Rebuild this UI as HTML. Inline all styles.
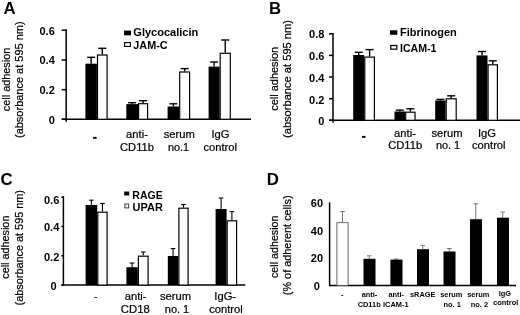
<!DOCTYPE html>
<html><head><meta charset="utf-8"><title>Figure</title>
<style>
html,body{margin:0;padding:0;background:#fff;}
body{width:520px;height:315px;overflow:hidden;font-family:"Liberation Sans",sans-serif;}
svg{display:block;}
</style></head><body>
<svg width="520" height="315" viewBox="0 0 520 315">
<defs><filter id="soft" x="0" y="0" width="520" height="315" filterUnits="userSpaceOnUse"><feGaussianBlur stdDeviation="0.35"/></filter></defs>
<rect x="0" y="0" width="520" height="315" fill="#fff"/>
<g filter="url(#soft)">
<text x="3.6" y="13.8" font-size="16.8" font-family="Liberation Sans, sans-serif" font-weight="bold" fill="#000">A</text>
<line x1="66.2" y1="29.45" x2="66.2" y2="121.8" stroke="#000" stroke-width="1.5"/>
<line x1="61.7" y1="119.3" x2="251" y2="119.3" stroke="#000" stroke-width="1.5"/>
<line x1="61.7" y1="30.2" x2="66.2" y2="30.2" stroke="#000" stroke-width="1.5"/>
<text x="54.8" y="34.8" font-size="11" font-family="Liberation Sans, sans-serif" text-anchor="end" font-weight="bold" fill="#000">0.6</text>
<line x1="61.7" y1="60" x2="66.2" y2="60" stroke="#000" stroke-width="1.5"/>
<text x="54.8" y="64.2" font-size="11" font-family="Liberation Sans, sans-serif" text-anchor="end" font-weight="bold" fill="#000">0.4</text>
<line x1="61.7" y1="89.7" x2="66.2" y2="89.7" stroke="#000" stroke-width="1.5"/>
<text x="54.8" y="93.9" font-size="11" font-family="Liberation Sans, sans-serif" text-anchor="end" font-weight="bold" fill="#000">0.2</text>
<line x1="61.7" y1="119.3" x2="66.2" y2="119.3" stroke="#000" stroke-width="1.5"/>
<text x="54.8" y="123.5" font-size="11" font-family="Liberation Sans, sans-serif" text-anchor="end" font-weight="bold" fill="#000">0</text>
<line x1="91.15" y1="57.3" x2="91.15" y2="63.7" stroke="#000" stroke-width="1.4"/>
<line x1="87.15" y1="57.3" x2="95.15" y2="57.3" stroke="#000" stroke-width="1.4"/>
<line x1="102.30000000000001" y1="48.3" x2="102.30000000000001" y2="54.4" stroke="#000" stroke-width="1.4"/>
<line x1="98.30000000000001" y1="48.3" x2="106.30000000000001" y2="48.3" stroke="#000" stroke-width="1.4"/>
<rect x="85.4" y="63.7" width="11.5" height="55.599999999999994" fill="#000"/>
<rect x="97.5" y="55.0" width="9.599999999999998" height="64.30000000000001" fill="#fff" stroke="#000" stroke-width="1.2"/>
<line x1="132.15" y1="102.7" x2="132.15" y2="104.1" stroke="#000" stroke-width="1.4"/>
<line x1="128.15" y1="102.7" x2="136.15" y2="102.7" stroke="#000" stroke-width="1.4"/>
<line x1="143.1" y1="100.7" x2="143.1" y2="103.1" stroke="#000" stroke-width="1.4"/>
<line x1="139.1" y1="100.7" x2="147.1" y2="100.7" stroke="#000" stroke-width="1.4"/>
<rect x="126.3" y="104.1" width="11.700000000000003" height="15.200000000000003" fill="#000"/>
<rect x="138.6" y="103.69999999999999" width="8.99999999999999" height="15.600000000000003" fill="#fff" stroke="#000" stroke-width="1.2"/>
<line x1="173.35" y1="103.8" x2="173.35" y2="106.5" stroke="#000" stroke-width="1.4"/>
<line x1="169.35" y1="103.8" x2="177.35" y2="103.8" stroke="#000" stroke-width="1.4"/>
<line x1="184.64999999999998" y1="68.6" x2="184.64999999999998" y2="71.4" stroke="#000" stroke-width="1.4"/>
<line x1="180.64999999999998" y1="68.6" x2="188.64999999999998" y2="68.6" stroke="#000" stroke-width="1.4"/>
<rect x="167.6" y="106.5" width="11.5" height="12.799999999999997" fill="#000"/>
<rect x="179.7" y="72.0" width="9.899999999999995" height="47.29999999999999" fill="#fff" stroke="#000" stroke-width="1.2"/>
<line x1="214.1" y1="62" x2="214.1" y2="66.6" stroke="#000" stroke-width="1.4"/>
<line x1="210.1" y1="62" x2="218.1" y2="62" stroke="#000" stroke-width="1.4"/>
<line x1="225.25" y1="40" x2="225.25" y2="52.7" stroke="#000" stroke-width="1.4"/>
<line x1="221.25" y1="40" x2="229.25" y2="40" stroke="#000" stroke-width="1.4"/>
<rect x="208.6" y="66.6" width="11.0" height="52.7" fill="#000"/>
<rect x="220.2" y="53.300000000000004" width="10.099999999999984" height="66.0" fill="#fff" stroke="#000" stroke-width="1.2"/>
<rect x="124" y="30.6" width="7" height="4.7" fill="#000"/>
<text x="133.3" y="35.8" font-size="10.8" font-family="Liberation Sans, sans-serif" font-weight="bold" textLength="65" lengthAdjust="spacingAndGlyphs" fill="#000">Glycocalicin</text>
<rect x="124.6" y="42.6" width="5.8" height="3.8" fill="#fff" stroke="#000" stroke-width="1.1"/>
<text x="133.3" y="48.6" font-size="10.8" font-family="Liberation Sans, sans-serif" font-weight="bold" textLength="34.3" lengthAdjust="spacingAndGlyphs" fill="#000">JAM-C</text>
<rect x="93.1" y="136.9" width="3.5" height="1.9" fill="#000"/>
<text x="137" y="137.9" font-size="11.2" font-family="Liberation Sans, sans-serif" text-anchor="middle" stroke="#000" stroke-width="0.22" fill="#000">anti-</text>
<text x="137" y="151.2" font-size="11.2" font-family="Liberation Sans, sans-serif" text-anchor="middle" stroke="#000" stroke-width="0.22" fill="#000">CD11b</text>
<text x="179.2" y="137.9" font-size="11.2" font-family="Liberation Sans, sans-serif" text-anchor="middle" stroke="#000" stroke-width="0.22" fill="#000">serum</text>
<text x="178.6" y="151.2" font-size="10.9" font-family="Liberation Sans, sans-serif" text-anchor="middle" stroke="#000" stroke-width="0.22" fill="#000">no.1</text>
<text x="220.4" y="137.9" font-size="11.2" font-family="Liberation Sans, sans-serif" text-anchor="middle" stroke="#000" stroke-width="0.22" fill="#000">IgG</text>
<text x="220.2" y="151.2" font-size="11.2" font-family="Liberation Sans, sans-serif" text-anchor="middle" stroke="#000" stroke-width="0.22" fill="#000">control</text>
<text x="9.9" y="111.2" font-size="11.6" font-family="Liberation Sans, sans-serif" textLength="63.5" lengthAdjust="spacingAndGlyphs" transform="rotate(-90 9.9 111.2)" stroke="#000" stroke-width="0.22" fill="#000">cell adhesion</text>
<text x="22.8" y="138.0" font-size="11.6" font-family="Liberation Sans, sans-serif" textLength="116.6" lengthAdjust="spacingAndGlyphs" transform="rotate(-90 22.8 138.0)" stroke="#000" stroke-width="0.22" fill="#000">(absorbance at 595 nm)</text>
<text x="269" y="14.2" font-size="16.8" font-family="Liberation Sans, sans-serif" font-weight="bold" fill="#000">B</text>
<line x1="333" y1="33.05" x2="333" y2="122.8" stroke="#000" stroke-width="1.5"/>
<line x1="329" y1="120.3" x2="520" y2="120.3" stroke="#000" stroke-width="1.5"/>
<line x1="329" y1="33.8" x2="333" y2="33.8" stroke="#000" stroke-width="1.5"/>
<text x="324.4" y="38.3" font-size="11" font-family="Liberation Sans, sans-serif" text-anchor="end" font-weight="bold" fill="#000">0.8</text>
<line x1="329" y1="55.4" x2="333" y2="55.4" stroke="#000" stroke-width="1.5"/>
<text x="324.4" y="59.6" font-size="11" font-family="Liberation Sans, sans-serif" text-anchor="end" font-weight="bold" fill="#000">0.6</text>
<line x1="329" y1="77" x2="333" y2="77" stroke="#000" stroke-width="1.5"/>
<text x="324.4" y="81.6" font-size="11" font-family="Liberation Sans, sans-serif" text-anchor="end" font-weight="bold" fill="#000">0.4</text>
<line x1="329" y1="98.7" x2="333" y2="98.7" stroke="#000" stroke-width="1.5"/>
<text x="324.4" y="103.7" font-size="11" font-family="Liberation Sans, sans-serif" text-anchor="end" font-weight="bold" fill="#000">0.2</text>
<line x1="329" y1="120.3" x2="333" y2="120.3" stroke="#000" stroke-width="1.5"/>
<text x="324.4" y="125.3" font-size="11" font-family="Liberation Sans, sans-serif" text-anchor="end" font-weight="bold" fill="#000">0</text>
<line x1="358.7" y1="52.3" x2="358.7" y2="55.0" stroke="#000" stroke-width="1.4"/>
<line x1="354.7" y1="52.3" x2="362.7" y2="52.3" stroke="#000" stroke-width="1.4"/>
<line x1="369.6" y1="49.6" x2="369.6" y2="56.5" stroke="#000" stroke-width="1.4"/>
<line x1="365.6" y1="49.6" x2="373.6" y2="49.6" stroke="#000" stroke-width="1.4"/>
<rect x="353.2" y="55.0" width="11.0" height="65.3" fill="#000"/>
<rect x="364.8" y="57.1" width="9.600000000000012" height="63.199999999999996" fill="#fff" stroke="#000" stroke-width="1.2"/>
<line x1="399.8" y1="110.1" x2="399.8" y2="111.5" stroke="#000" stroke-width="1.4"/>
<line x1="395.8" y1="110.1" x2="403.8" y2="110.1" stroke="#000" stroke-width="1.4"/>
<line x1="410.35" y1="108.8" x2="410.35" y2="111.6" stroke="#000" stroke-width="1.4"/>
<line x1="406.35" y1="108.8" x2="414.35" y2="108.8" stroke="#000" stroke-width="1.4"/>
<rect x="394.5" y="111.5" width="10.600000000000023" height="8.799999999999997" fill="#000"/>
<rect x="405.70000000000005" y="112.19999999999999" width="9.299999999999944" height="8.100000000000003" fill="#fff" stroke="#000" stroke-width="1.2"/>
<line x1="440.4" y1="99.4" x2="440.4" y2="100.5" stroke="#000" stroke-width="1.4"/>
<line x1="436.4" y1="99.4" x2="444.4" y2="99.4" stroke="#000" stroke-width="1.4"/>
<line x1="451.20000000000005" y1="95.8" x2="451.20000000000005" y2="98.2" stroke="#000" stroke-width="1.4"/>
<line x1="447.20000000000005" y1="95.8" x2="455.20000000000005" y2="95.8" stroke="#000" stroke-width="1.4"/>
<rect x="435.2" y="100.5" width="10.400000000000034" height="19.799999999999997" fill="#000"/>
<rect x="446.20000000000005" y="98.8" width="9.99999999999999" height="21.499999999999993" fill="#fff" stroke="#000" stroke-width="1.2"/>
<line x1="482.0" y1="51.5" x2="482.0" y2="55.4" stroke="#000" stroke-width="1.4"/>
<line x1="478.0" y1="51.5" x2="486.0" y2="51.5" stroke="#000" stroke-width="1.4"/>
<line x1="492.75" y1="60.8" x2="492.75" y2="64.2" stroke="#000" stroke-width="1.4"/>
<line x1="488.75" y1="60.8" x2="496.75" y2="60.8" stroke="#000" stroke-width="1.4"/>
<rect x="476.5" y="55.4" width="11.0" height="64.9" fill="#000"/>
<rect x="488.1" y="64.8" width="9.3" height="55.49999999999999" fill="#fff" stroke="#000" stroke-width="1.2"/>
<rect x="390" y="30.3" width="7.3" height="4.5" fill="#000"/>
<text x="400" y="36.2" font-size="10.8" font-family="Liberation Sans, sans-serif" font-weight="bold" textLength="56.8" lengthAdjust="spacingAndGlyphs" fill="#000">Fibrinogen</text>
<rect x="390.8" y="45.5" width="6" height="3.7" fill="#fff" stroke="#000" stroke-width="1.25"/>
<text x="400" y="51.7" font-size="10.8" font-family="Liberation Sans, sans-serif" font-weight="bold" textLength="36.5" lengthAdjust="spacingAndGlyphs" fill="#000">ICAM-1</text>
<rect x="362" y="135.9" width="3.5" height="1.9" fill="#000"/>
<text x="405" y="136.6" font-size="11.2" font-family="Liberation Sans, sans-serif" text-anchor="middle" stroke="#000" stroke-width="0.22" fill="#000">anti-</text>
<text x="405.2" y="149.2" font-size="11.2" font-family="Liberation Sans, sans-serif" text-anchor="middle" stroke="#000" stroke-width="0.22" fill="#000">CD11b</text>
<text x="447" y="136.6" font-size="11.2" font-family="Liberation Sans, sans-serif" text-anchor="middle" stroke="#000" stroke-width="0.22" fill="#000">serum</text>
<text x="448" y="149.2" font-size="10.9" font-family="Liberation Sans, sans-serif" text-anchor="middle" stroke="#000" stroke-width="0.22" fill="#000">no. 1</text>
<text x="487" y="136.6" font-size="11.2" font-family="Liberation Sans, sans-serif" text-anchor="middle" stroke="#000" stroke-width="0.22" fill="#000">IgG</text>
<text x="488.8" y="149.2" font-size="11.2" font-family="Liberation Sans, sans-serif" text-anchor="middle" stroke="#000" stroke-width="0.22" fill="#000">control</text>
<text x="278.0" y="110.8" font-size="11.7" font-family="Liberation Sans, sans-serif" textLength="64" lengthAdjust="spacingAndGlyphs" transform="rotate(-90 278.0 110.8)" stroke="#000" stroke-width="0.22" fill="#000">cell adhesion</text>
<text x="291.3" y="138.0" font-size="11.7" font-family="Liberation Sans, sans-serif" textLength="118" lengthAdjust="spacingAndGlyphs" transform="rotate(-90 291.3 138.0)" stroke="#000" stroke-width="0.22" fill="#000">(absorbance at 595 nm)</text>
<text x="0.5" y="184.8" font-size="16.8" font-family="Liberation Sans, sans-serif" font-weight="bold" fill="#000">C</text>
<line x1="63.4" y1="196.35" x2="63.4" y2="285.8" stroke="#000" stroke-width="1.5"/>
<line x1="61.4" y1="285.1" x2="245.4" y2="285.1" stroke="#000" stroke-width="1.5"/>
<line x1="61.4" y1="197.1" x2="63.4" y2="197.1" stroke="#000" stroke-width="1.5"/>
<text x="59.3" y="203.5" font-size="11" font-family="Liberation Sans, sans-serif" text-anchor="end" font-weight="bold" fill="#000">0.6</text>
<line x1="61.4" y1="226.4" x2="63.4" y2="226.4" stroke="#000" stroke-width="1.5"/>
<text x="59.3" y="231.4" font-size="11" font-family="Liberation Sans, sans-serif" text-anchor="end" font-weight="bold" fill="#000">0.4</text>
<line x1="61.4" y1="255.8" x2="63.4" y2="255.8" stroke="#000" stroke-width="1.5"/>
<text x="59.3" y="260.8" font-size="11" font-family="Liberation Sans, sans-serif" text-anchor="end" font-weight="bold" fill="#000">0.2</text>
<line x1="61.4" y1="285.1" x2="63.4" y2="285.1" stroke="#000" stroke-width="1.5"/>
<text x="56.7" y="289.7" font-size="11" font-family="Liberation Sans, sans-serif" text-anchor="end" font-weight="bold" fill="#000">0</text>
<line x1="91.4" y1="200.2" x2="91.4" y2="205" stroke="#000" stroke-width="1.1"/>
<line x1="89.10000000000001" y1="200.2" x2="93.7" y2="200.2" stroke="#000" stroke-width="1.1"/>
<line x1="102.45" y1="203.5" x2="102.45" y2="211.6" stroke="#000" stroke-width="1.1"/>
<line x1="100.15" y1="203.5" x2="104.75" y2="203.5" stroke="#000" stroke-width="1.1"/>
<rect x="85.6" y="205" width="11.600000000000009" height="80.10000000000002" fill="#000"/>
<rect x="97.8" y="212.2" width="9.3" height="72.90000000000003" fill="#fff" stroke="#000" stroke-width="1.2"/>
<line x1="132.10000000000002" y1="263" x2="132.10000000000002" y2="267.2" stroke="#000" stroke-width="1.1"/>
<line x1="129.8" y1="263" x2="134.40000000000003" y2="263" stroke="#000" stroke-width="1.1"/>
<line x1="143.25" y1="252" x2="143.25" y2="255.6" stroke="#000" stroke-width="1.1"/>
<line x1="140.95" y1="252" x2="145.55" y2="252" stroke="#000" stroke-width="1.1"/>
<rect x="126.4" y="267.2" width="11.400000000000006" height="17.900000000000034" fill="#000"/>
<rect x="138.4" y="256.2" width="9.699999999999978" height="28.900000000000027" fill="#fff" stroke="#000" stroke-width="1.2"/>
<line x1="173.05" y1="248.6" x2="173.05" y2="256" stroke="#000" stroke-width="1.1"/>
<line x1="170.75" y1="248.6" x2="175.35000000000002" y2="248.6" stroke="#000" stroke-width="1.1"/>
<line x1="183.5" y1="204.5" x2="183.5" y2="207.6" stroke="#000" stroke-width="1.1"/>
<line x1="181.2" y1="204.5" x2="185.8" y2="204.5" stroke="#000" stroke-width="1.1"/>
<rect x="167.8" y="256" width="10.5" height="29.100000000000023" fill="#000"/>
<rect x="178.9" y="208.2" width="9.199999999999978" height="76.90000000000003" fill="#fff" stroke="#000" stroke-width="1.2"/>
<line x1="221.1" y1="198" x2="221.1" y2="209" stroke="#000" stroke-width="1.1"/>
<line x1="218.79999999999998" y1="198" x2="223.4" y2="198" stroke="#000" stroke-width="1.1"/>
<line x1="231.89999999999998" y1="211.6" x2="231.89999999999998" y2="220.2" stroke="#000" stroke-width="1.1"/>
<line x1="229.59999999999997" y1="211.6" x2="234.2" y2="211.6" stroke="#000" stroke-width="1.1"/>
<rect x="215.6" y="209" width="11.0" height="76.10000000000002" fill="#000"/>
<rect x="227.2" y="220.79999999999998" width="9.399999999999995" height="64.30000000000004" fill="#fff" stroke="#000" stroke-width="1.2"/>
<rect x="124.2" y="191.5" width="5" height="4" fill="#000"/>
<text x="132.3" y="198.8" font-size="11.2" font-family="Liberation Sans, sans-serif" font-weight="bold" textLength="30.5" lengthAdjust="spacingAndGlyphs" fill="#000">RAGE</text>
<rect x="124.9" y="204.0" width="3.8" height="3.9" fill="#fff" stroke="#333" stroke-width="0.95"/>
<text x="132.6" y="210.5" font-size="11.2" font-family="Liberation Sans, sans-serif" font-weight="bold" textLength="30.2" lengthAdjust="spacingAndGlyphs" fill="#000">UPAR</text>
<text x="95.7" y="300" font-size="11.2" font-family="Liberation Sans, sans-serif" text-anchor="middle" stroke="#222" stroke-width="0.22" fill="#222">-</text>
<text x="135.7" y="300" font-size="11.2" font-family="Liberation Sans, sans-serif" text-anchor="middle" stroke="#000" stroke-width="0.22" fill="#000">anti-</text>
<text x="135.3" y="313.2" font-size="11.3" font-family="Liberation Sans, sans-serif" text-anchor="middle" stroke="#000" stroke-width="0.22" fill="#000">CD18</text>
<text x="175.5" y="300" font-size="11.2" font-family="Liberation Sans, sans-serif" text-anchor="middle" stroke="#000" stroke-width="0.22" fill="#000">serum</text>
<text x="177" y="313.2" font-size="11" font-family="Liberation Sans, sans-serif" text-anchor="middle" stroke="#000" stroke-width="0.22" fill="#000">no. 1</text>
<text x="225.2" y="300" font-size="11.2" font-family="Liberation Sans, sans-serif" text-anchor="middle" stroke="#000" stroke-width="0.22" fill="#000">IgG-</text>
<text x="226" y="313.2" font-size="11.2" font-family="Liberation Sans, sans-serif" text-anchor="middle" stroke="#000" stroke-width="0.22" fill="#000">control</text>
<text x="9.0" y="278.7" font-size="11.6" font-family="Liberation Sans, sans-serif" textLength="63.1" lengthAdjust="spacingAndGlyphs" transform="rotate(-90 9.0 278.7)" stroke="#000" stroke-width="0.22" fill="#000">cell adhesion</text>
<text x="22.7" y="305.4" font-size="11.6" font-family="Liberation Sans, sans-serif" textLength="115.4" lengthAdjust="spacingAndGlyphs" transform="rotate(-90 22.7 305.4)" stroke="#000" stroke-width="0.22" fill="#000">(absorbance at 595 nm)</text>
<text x="266.8" y="184.5" font-size="16.8" font-family="Liberation Sans, sans-serif" font-weight="bold" fill="#000">D</text>
<line x1="329.6" y1="202.35" x2="329.6" y2="286.2" stroke="#000" stroke-width="1.5"/>
<line x1="329.6" y1="285.5" x2="516" y2="285.5" stroke="#000" stroke-width="1.5"/>
<text x="316.9" y="207.29999999999998" font-size="11" font-family="Liberation Sans, sans-serif" text-anchor="middle" font-weight="bold" fill="#000">60</text>
<text x="316.9" y="234.79999999999998" font-size="11" font-family="Liberation Sans, sans-serif" text-anchor="middle" font-weight="bold" fill="#000">40</text>
<text x="316.9" y="262.2" font-size="11" font-family="Liberation Sans, sans-serif" text-anchor="middle" font-weight="bold" fill="#000">20</text>
<text x="316.9" y="289.7" font-size="11" font-family="Liberation Sans, sans-serif" text-anchor="middle" font-weight="bold" fill="#000">0</text>
<line x1="342.5" y1="211.5" x2="342.5" y2="222.3" stroke="#666" stroke-width="0.9"/>
<line x1="340.2" y1="211.5" x2="344.8" y2="211.5" stroke="#666" stroke-width="0.9"/>
<rect x="336.9" y="222.70000000000002" width="11.2" height="62.79999999999999" fill="#fff" stroke="#444" stroke-width="0.8"/>
<line x1="369.25" y1="255.8" x2="369.25" y2="258.8" stroke="#666" stroke-width="0.9"/>
<line x1="366.95" y1="255.8" x2="371.55" y2="255.8" stroke="#666" stroke-width="0.9"/>
<rect x="363.5" y="258.8" width="12.0" height="26.69999999999999" fill="#000"/>
<line x1="396.2" y1="259" x2="396.2" y2="259.6" stroke="#666" stroke-width="0.9"/>
<line x1="393.9" y1="259" x2="398.5" y2="259" stroke="#666" stroke-width="0.9"/>
<rect x="390.4" y="259.6" width="12.100000000000023" height="25.899999999999977" fill="#000"/>
<line x1="422.75" y1="245.4" x2="422.75" y2="249.2" stroke="#666" stroke-width="0.9"/>
<line x1="420.45" y1="245.4" x2="425.05" y2="245.4" stroke="#666" stroke-width="0.9"/>
<rect x="417" y="249.2" width="12.0" height="36.30000000000001" fill="#000"/>
<line x1="449.25" y1="248.5" x2="449.25" y2="251.5" stroke="#666" stroke-width="0.9"/>
<line x1="446.95" y1="248.5" x2="451.55" y2="248.5" stroke="#666" stroke-width="0.9"/>
<rect x="443.5" y="251.5" width="12.0" height="34.0" fill="#000"/>
<line x1="475.75" y1="203.8" x2="475.75" y2="219.2" stroke="#666" stroke-width="0.9"/>
<line x1="473.45" y1="203.8" x2="478.05" y2="203.8" stroke="#666" stroke-width="0.9"/>
<rect x="470" y="219.2" width="12.0" height="66.30000000000001" fill="#000"/>
<line x1="502.75" y1="212" x2="502.75" y2="217.7" stroke="#666" stroke-width="0.9"/>
<line x1="500.45" y1="212" x2="505.05" y2="212" stroke="#666" stroke-width="0.9"/>
<rect x="497" y="217.7" width="12.0" height="67.80000000000001" fill="#000"/>
<text x="342.3" y="297.3" font-size="7.4" font-family="Liberation Sans, sans-serif" text-anchor="middle" font-weight="bold" fill="#000">-</text>
<text x="369.5" y="296.9" font-size="7.4" font-family="Liberation Sans, sans-serif" text-anchor="middle" font-weight="bold" fill="#000">anti-</text>
<text x="369.2" y="306.6" font-size="7.4" font-family="Liberation Sans, sans-serif" text-anchor="middle" font-weight="bold" fill="#000">CD11b</text>
<text x="396.2" y="296.9" font-size="7.4" font-family="Liberation Sans, sans-serif" text-anchor="middle" font-weight="bold" fill="#000">anti-</text>
<text x="395.8" y="306.6" font-size="7.4" font-family="Liberation Sans, sans-serif" text-anchor="middle" font-weight="bold" fill="#000">ICAM-1</text>
<text x="422.7" y="296.9" font-size="7.4" font-family="Liberation Sans, sans-serif" text-anchor="middle" font-weight="bold" fill="#000">sRAGE</text>
<text x="451.3" y="296.7" font-size="7.4" font-family="Liberation Sans, sans-serif" text-anchor="middle" font-weight="bold" fill="#000">serum</text>
<text x="452.2" y="306.6" font-size="7.4" font-family="Liberation Sans, sans-serif" text-anchor="middle" font-weight="bold" fill="#000">no. 1</text>
<text x="478.3" y="296.7" font-size="7.4" font-family="Liberation Sans, sans-serif" text-anchor="middle" font-weight="bold" fill="#000">serum</text>
<text x="479.4" y="306.6" font-size="7.4" font-family="Liberation Sans, sans-serif" text-anchor="middle" font-weight="bold" fill="#000">no. 2</text>
<text x="504.9" y="296.1" font-size="7.4" font-family="Liberation Sans, sans-serif" text-anchor="middle" font-weight="bold" fill="#000">IgG</text>
<text x="505.7" y="305.2" font-size="7.4" font-family="Liberation Sans, sans-serif" text-anchor="middle" font-weight="bold" fill="#000">control</text>
<text x="278.0" y="278" font-size="11.6" font-family="Liberation Sans, sans-serif" textLength="62.5" lengthAdjust="spacingAndGlyphs" transform="rotate(-90 278.0 278)" stroke="#000" stroke-width="0.22" fill="#000">cell adhesion</text>
<text x="291.0" y="295.2" font-size="11.6" font-family="Liberation Sans, sans-serif" textLength="99.7" lengthAdjust="spacingAndGlyphs" transform="rotate(-90 291.0 295.2)" stroke="#000" stroke-width="0.22" fill="#000">(% of adherent cells)</text>
</g>
</svg>
</body></html>
